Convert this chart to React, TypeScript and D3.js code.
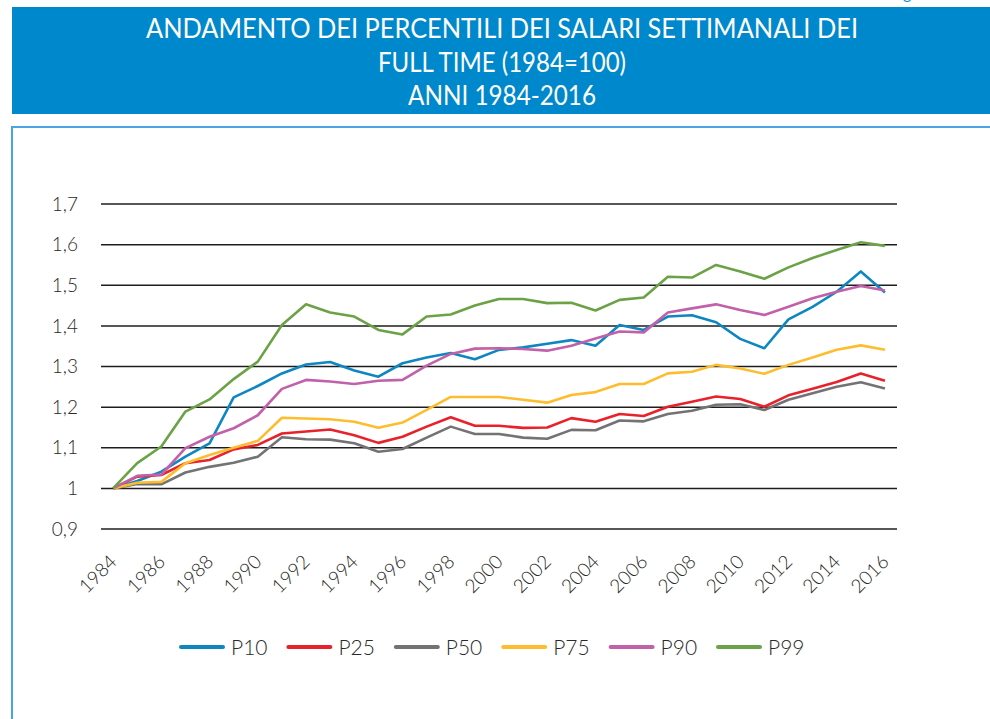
import React from "react";
import * as d3 from "d3";

const years: number[] = [
  1984, 1985, 1986, 1987, 1988, 1989, 1990, 1991, 1992, 1993, 1994, 1995, 1996, 1997, 1998, 1999, 2000,
  2001, 2002, 2003, 2004, 2005, 2006, 2007, 2008, 2009, 2010, 2011, 2012, 2013, 2014, 2015, 2016,
];

const p10: number[] = [
  1, 1.018, 1.041, 1.078, 1.111, 1.224, 1.252, 1.283, 1.305, 1.311, 1.29, 1.275, 1.308, 1.322, 1.333, 1.318,
  1.341, 1.347, 1.356, 1.365, 1.351, 1.402, 1.39, 1.423, 1.426, 1.409, 1.368, 1.345, 1.416, 1.447, 1.484, 1.534, 1.482,
];
const p25: number[] = [
  1, 1.029, 1.033, 1.062, 1.07, 1.096, 1.107, 1.135, 1.14, 1.145, 1.131, 1.112, 1.127, 1.152, 1.175, 1.154,
  1.154, 1.149, 1.15, 1.173, 1.164, 1.183, 1.178, 1.201, 1.213, 1.226, 1.22, 1.201, 1.229, 1.245, 1.262, 1.283, 1.265,
];
const p50: number[] = [
  1, 1.011, 1.01, 1.039, 1.053, 1.063, 1.078, 1.126, 1.121, 1.12, 1.111, 1.09, 1.097, 1.125, 1.152, 1.134,
  1.134, 1.125, 1.122, 1.144, 1.143, 1.167, 1.165, 1.183, 1.191, 1.206, 1.207, 1.193, 1.218, 1.234, 1.25, 1.261, 1.246,
];
const p75: number[] = [
  1, 1.014, 1.016, 1.062, 1.082, 1.1, 1.117, 1.174, 1.172, 1.17, 1.164, 1.149, 1.162, 1.193, 1.225, 1.225,
  1.225, 1.218, 1.211, 1.23, 1.237, 1.257, 1.257, 1.283, 1.287, 1.304, 1.295, 1.282, 1.304, 1.322, 1.341, 1.352, 1.341,
];
const p90: number[] = [
  1, 1.031, 1.034, 1.099, 1.127, 1.148, 1.18, 1.245, 1.267, 1.263, 1.257, 1.265, 1.267, 1.302, 1.331, 1.344,
  1.345, 1.343, 1.339, 1.351, 1.369, 1.386, 1.384, 1.433, 1.443, 1.453, 1.439, 1.427, 1.447, 1.468, 1.484, 1.498, 1.487,
];
const p99: number[] = [
  1, 1.062, 1.103, 1.189, 1.219, 1.269, 1.312, 1.402, 1.453, 1.433, 1.423, 1.39, 1.379, 1.423, 1.428, 1.45,
  1.466, 1.466, 1.456, 1.457, 1.438, 1.464, 1.47, 1.521, 1.519, 1.55, 1.534, 1.516, 1.544, 1.567, 1.587, 1.606, 1.597,
];

const seriesNames: string[] = ["P10", "P25", "P50", "P75", "P90", "P99"];
const seriesValues: number[][] = [p10, p25, p50, p75, p90, p99];
const seriesColors: string[] = ["#0e87c0", "#e8222a", "#737274", "#fdbd2e", "#c061aa", "#6ba246"];

const yTicks: number[] = [0.9, 1, 1.1, 1.2, 1.3, 1.4, 1.5, 1.6, 1.7];
const xTickYears: number[] = years.filter((y) => (y - 1984) % 2 === 0);

const titleLines: string[] = [
  "ANDAMENTO DEI PERCENTILI DEI SALARI SETTIMANALI DEI",
  "FULL TIME (1984=100)",
  "ANNI 1984-2016",
];

const FONT = "Lato, 'Open Sans', sans-serif";

export default function App() {
  const x = d3
    .scalePoint<number>()
    .domain(years)
    .range([101, 897])
    .padding(0.5);
  const y = d3.scaleLinear().domain([0.9, 1.7]).range([529, 204]);

  const line = d3
    .line<number>()
    .x((_, i) => x(years[i]) as number)
    .y((d) => y(d));

  const fmt = (v: number) => {
    const s = d3.format(".1f")(v);
    return s.endsWith(".0") ? s.slice(0, -2) : s.replace(".", ",");
  };

  const titleWidths = [712, 248, 188];
  const titleBaselines = [38, 72, 105];

  return (
    <svg
      width={990}
      height={719}
      style={{ position: "absolute", left: 0, top: 0, background: "#fff" }}
      fontFamily={FONT}
    >
      <rect x={0} y={0} width={990} height={719} fill="#ffffff" />
      <text x={903} y={-1} fontSize={16} fill="#1a8fd0">
        g
      </text>
      <rect x={12} y={7} width={978} height={107} fill="#0088cc" />
      {titleLines.map((t, i) => (
        <text
          key={i}
          x={502}
          y={titleBaselines[i]}
          textAnchor="middle"
          fill="#ffffff"
          fontSize={27}
          fontWeight={400}
          textLength={titleWidths[i]}
          lengthAdjust="spacingAndGlyphs"
        >
          {t}
        </text>
      ))}
      <rect x={12} y={127} width={990} height={620} fill="none" stroke="#4aa6dc" strokeWidth={2} />

      {yTicks.map((t) => (
        <g key={t}>
          <line x1={101} x2={897} y1={y(t)} y2={y(t)} stroke="#1e1e1e" strokeWidth={1.5} />
          <text
            x={78}
            y={y(t)}
            dy="0.35em"
            textAnchor="end"
            fontSize={19}
            fontWeight={300}
            fill="#2a2a2a"
          >
            {fmt(t)}
          </text>
        </g>
      ))}

      {xTickYears.map((yr) => (
        <text
          key={yr}
          transform={`translate(${(x(yr) as number) + 5},${563}) rotate(-45)`}
          textAnchor="end"
          fontSize={19}
          fontWeight={300}
          fill="#222"
        >
          {yr}
        </text>
      ))}

      {seriesValues.map((vals, i) => (
        <path
          key={seriesNames[i]}
          d={line(vals) || ""}
          fill="none"
          stroke={seriesColors[i]}
          strokeWidth={2.6}
          strokeLinejoin="round"
        />
      ))}

      {seriesNames.map((n, i) => {
        const lx = 181 + i * 107.4;
        return (
          <g key={n}>
            <line
              x1={lx}
              x2={lx + 42}
              y1={647}
              y2={647}
              stroke={seriesColors[i]}
              strokeWidth={4}
              strokeLinecap="round"
            />
            <text x={lx + 50} y={647} dy="0.36em" fontSize={21} fontWeight={300} fill="#2a2a2a">
              {n}
            </text>
          </g>
        );
      })}
    </svg>
  );
}
